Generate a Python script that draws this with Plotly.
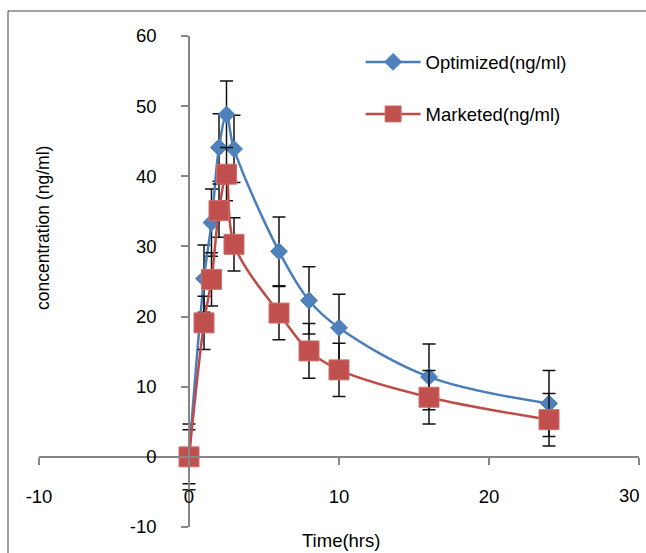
import plotly.graph_objects as go

# ---- data ----
time_hrs = [0, 1, 1.5, 2, 2.5, 3, 6, 8, 10, 16, 24]
optimized = [0, 25.4, 33.4, 44.1, 48.8, 43.9, 29.3, 22.3, 18.4, 11.4, 7.6]
marketed = [0, 19.1, 25.3, 35.1, 40.3, 30.3, 20.5, 15.1, 12.4, 8.5, 5.3]
optimized_err = [4.7, 4.8, 4.8, 4.8, 4.8, 4.8, 4.9, 4.8, 4.8, 4.7, 4.7]
marketed_err = [3.85, 3.8, 3.8, 3.8, 3.8, 3.8, 3.8, 3.9, 3.8, 3.8, 3.75]
x_ticks = [-10, 0, 10, 20, 30]
x_tick_labels = ["-10", "0", "10", "20", "30"]
y_ticks = [-10, 0, 10, 20, 30, 40, 50, 60]
series_names = ["Optimized(ng/ml)", "Marketed(ng/ml)"]
x_title = "Time(hrs)"
y_title = "concentration (ng/ml)"

FONT = "Liberation Sans, Arial, sans-serif"
FS = 18.5
AXIS_GRAY = "#868686"

fig = go.Figure()

fig.add_trace(go.Scatter(
    x=time_hrs, y=optimized, name=series_names[0], legendgroup="a",
    mode="lines+markers",
    line=dict(color="#4A7EBB", width=2.5, shape="spline", smoothing=1),
    marker=dict(symbol="diamond", size=13, color="#4F81BD",
                line=dict(color="#4A7EBB", width=1)),
    error_y=dict(type="data", array=optimized_err, visible=True,
                 color="#111111", thickness=1.5, width=6.5),
))
fig.add_trace(go.Scatter(
    x=time_hrs, y=marketed, name=series_names[1], legendgroup="b",
    mode="lines+markers",
    line=dict(color="#BE4B48", width=2.5, shape="spline", smoothing=1),
    marker=dict(symbol="square", size=20, color="#C0504D",
                line=dict(color="#CF6F6C", width=1)),
    error_y=dict(type="data", array=marketed_err, visible=True,
                 color="#111111", thickness=1.5, width=6.5),
))

# all x tick labels except the last are drawn by the axis; the last one sits
# flush against the right edge in the reference, so it is an annotation
axis_ticktext = x_tick_labels[:-1] + [""]

fig.update_layout(
    width=646, height=553,
    margin=dict(l=39, r=7, t=36, b=26, autoexpand=False),
    paper_bgcolor="white", plot_bgcolor="white",
    font=dict(family=FONT, size=FS, color="#000000"),
    showlegend=True,
    legend=dict(x=0.536, y=0.985, xanchor="left", yanchor="top",
                traceorder="grouped", tracegroupgap=25, itemwidth=55,
                font=dict(family=FONT, size=FS, color="#000000"),
                bgcolor="rgba(0,0,0,0)"),
    xaxis=dict(range=[-10, 30], tickvals=x_ticks, ticktext=axis_ticktext,
               anchor="free", position=1/7, showline=True, linecolor=AXIS_GRAY,
               linewidth=1.5, ticks="outside", ticklen=7, tickwidth=1.5,
               tickcolor=AXIS_GRAY, showgrid=False, zeroline=False,
               ticklabelstandoff=16, ticklabeloverflow="allow", automargin=False,
               tickfont=dict(family=FONT, size=FS)),
    yaxis=dict(range=[-10, 60], tickvals=y_ticks, ticktext=[str(v) for v in y_ticks],
               anchor="free", position=0.25, showline=True, linecolor=AXIS_GRAY,
               linewidth=1.5, ticks="outside", ticklen=7, tickwidth=1.5,
               tickcolor=AXIS_GRAY, showgrid=False, zeroline=False,
               ticklabelstandoff=21, ticklabeloverflow="allow", automargin=False,
               tickfont=dict(family=FONT, size=FS)),
    annotations=[
        dict(text=x_tick_labels[-1], xref="x", yref="y", x=x_ticks[-1], y=0,
             xanchor="right", yanchor="middle", xshift=3, yshift=-39,
             showarrow=False, font=dict(family=FONT, size=FS)),
        dict(text=x_title, xref="paper", yref="paper", x=0.503, y=-0.0265,
             xanchor="center", yanchor="middle", showarrow=False,
             font=dict(family=FONT, size=FS)),
        dict(text=y_title, xref="paper", yref="paper", x=0.0067, y=0.609,
             xanchor="center", yanchor="middle", showarrow=False, textangle=-90,
             font=dict(family=FONT, size=17.5)),
    ],
    shapes=[
        dict(type="rect", xref="paper", yref="paper",
             x0=(8 - 39) / 600, x1=(680 - 39) / 600,
             y0=(527 - 600) / 491, y1=(527 - 11) / 491,
             line=dict(color="#404040", width=1), fillcolor="rgba(0,0,0,0)",
             layer="below"),
    ],
)

fig.write_html("out.html")
